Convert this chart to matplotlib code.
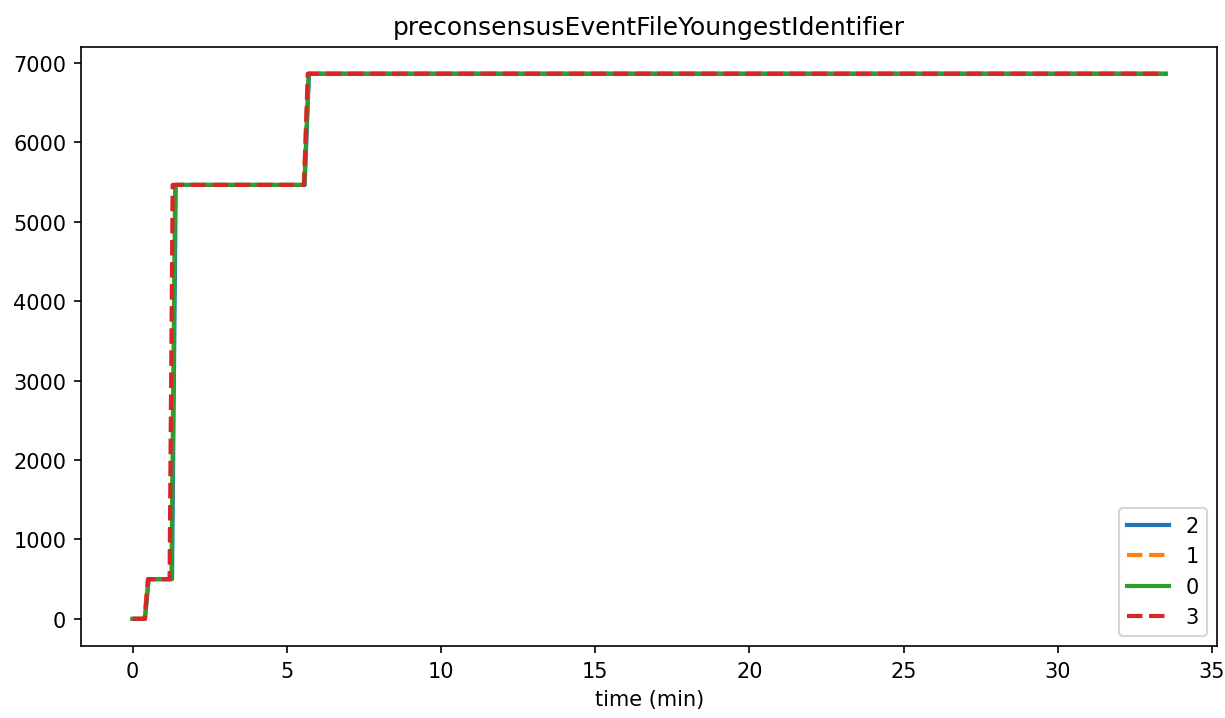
import matplotlib.pyplot as plt

# time (min) and value for each node
t2 = [0.0, 0.40, 0.52, 1.28, 1.40, 5.58, 5.72, 33.5]
v2 = [0, 0, 500, 500, 5465, 5465, 6865, 6865]

t1 = [0.0, 0.38, 0.50, 1.22, 1.34, 5.55, 5.70, 33.5]
v1 = [0, 0, 500, 500, 5465, 5465, 6865, 6865]

t0 = [0.0, 0.40, 0.52, 1.26, 1.38, 5.57, 5.71, 33.5]
v0 = [0, 0, 500, 500, 5465, 5465, 6865, 6865]

t3 = [0.0, 0.40, 0.50, 1.20, 1.30, 5.56, 5.68, 33.5]
v3 = [0, 0, 500, 500, 5465, 5465, 6865, 6865]

fig, ax = plt.subplots(figsize=(8.173, 4.793), dpi=150)
fig.subplots_adjust(left=0.066, right=0.993, top=0.934, bottom=0.10)

ax.plot(t2, v2, color='tab:blue', linestyle='-', linewidth=2, label='2')
ax.plot(t1, v1, color='tab:orange', linestyle='--', linewidth=2, label='1')
ax.plot(t0, v0, color='tab:green', linestyle='-', linewidth=2, label='0')
ax.plot(t3, v3, color='tab:red', linestyle='--', linewidth=2, label='3')

ax.set_title('preconsensusEventFileYoungestIdentifier')
ax.set_xlabel('time (min)')
ax.legend(loc='lower right')

plt.savefig('out.png')
